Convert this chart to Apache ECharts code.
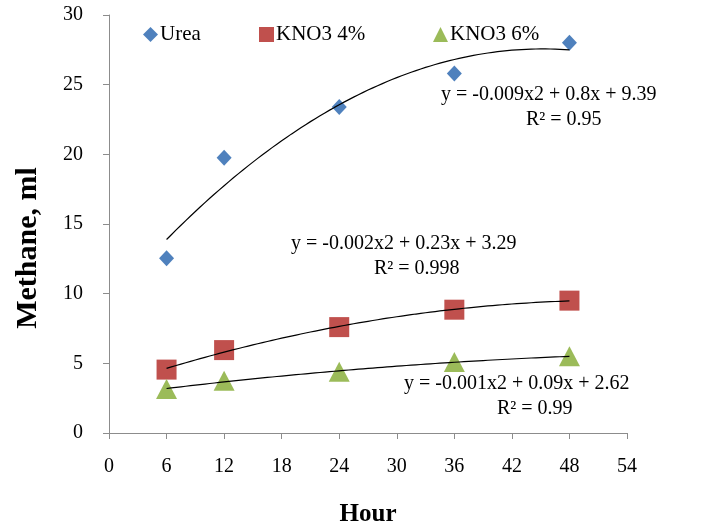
<!DOCTYPE html>
<html><head><meta charset="utf-8">
<script src="https://cdn.jsdelivr.net/npm/echarts@6/dist/echarts.min.js"></script>
<style>html,body{margin:0;padding:0;background:#fff}#c{width:715px;height:524px}</style>
</head><body><div id="c"></div>
<script>
var hours = [6, 12, 24, 36, 48];
var urea = [12.55, 19.75, 23.4, 25.8, 28.0];
var kno3_4 = [4.55, 5.95, 7.6, 8.85, 9.5];
var kno3_6 = [3.15, 3.75, 4.4, 5.1, 5.5];
var seriesNames = ['Urea', 'KNO3 4%', 'KNO3 6%'];
var equations = ['y = -0.009x2 + 0.8x + 9.39', 'y = -0.002x2 + 0.23x + 3.29', 'y = -0.001x2 + 0.09x + 2.62'];
var rsq = ['R\u00b2 = 0.95', 'R\u00b2 = 0.998', 'R\u00b2 = 0.99'];
var xTicks = [0, 6, 12, 18, 24, 30, 36, 42, 48, 54];
var yTicks = [0, 5, 10, 15, 20, 25, 30];

// least-squares quadratic trendline (as the spreadsheet did)
function quadFit(xs, ys) {
  var n = xs.length, S = [0,0,0,0,0], T = [0,0,0];
  for (var i = 0; i < n; i++) {
    var p = 1;
    for (var k = 0; k < 5; k++) { S[k] += p; p *= xs[i]; }
    p = 1;
    for (var k2 = 0; k2 < 3; k2++) { T[k2] += p * ys[i]; p *= xs[i]; }
  }
  var A = [[S[0],S[1],S[2],T[0]],[S[1],S[2],S[3],T[1]],[S[2],S[3],S[4],T[2]]];
  for (var c = 0; c < 3; c++) {
    for (var r = c + 1; r < 3; r++) {
      var f = A[r][c] / A[c][c];
      for (var j = c; j < 4; j++) A[r][j] -= f * A[c][j];
    }
  }
  var sol = [0,0,0];
  for (var r2 = 2; r2 >= 0; r2--) {
    var s = A[r2][3];
    for (var j2 = r2 + 1; j2 < 3; j2++) s -= A[r2][j2] * sol[j2];
    sol[r2] = s / A[r2][r2];
  }
  return sol;
}
function trend(ys) {
  var c = quadFit(hours, ys), pts = [];
  for (var x = hours[0]; x <= hours[hours.length - 1] + 1e-9; x += 0.5) {
    pts.push([x, c[0] + c[1] * x + c[2] * x * x]);
  }
  return pts;
}
function pairs(ys) { return hours.map(function (h, i) { return [h, ys[i]]; }); }

var font = '"Liberation Serif", "Times New Roman", serif';
var colors = ['#4F81BD', '#C0504D', '#9BBB59'];
var chart = echarts.init(document.getElementById('c'));
var trendStyle = { color: '#000', width: 1.2 };
function leg(name, icon, left) {
  return {
    data: [{ name: name, icon: icon }],
    top: 19, left: left, itemWidth: 15, itemHeight: 15, itemGap: 0,
    textStyle: { fontFamily: font, fontSize: 21, color: '#000', padding: [0, 0, 0, -3] }
  };
}
var eqFont = '20px ' + font;
chart.setOption({
  animation: false,
  textStyle: { fontFamily: font },
  grid: { left: 109, right: 88, top: 15, bottom: 91, containLabel: false, outerBoundsMode: 'none' },
  legend: [ leg(seriesNames[0], 'diamond', 138), leg(seriesNames[1], 'rect', 254), leg(seriesNames[2], 'triangle', 428) ],
  xAxis: {
    type: 'value', min: 0, max: 54, interval: 6,
    axisLine: { show: true, lineStyle: { color: '#8c8c8c' } },
    axisTick: { show: true, inside: false, length: 6, lineStyle: { color: '#8c8c8c' } },
    splitLine: { show: false },
    axisLabel: { fontFamily: font, fontSize: 20, color: '#000', margin: 24 },
    name: 'Hour', nameLocation: 'middle', nameGap: 69,
    nameTextStyle: { fontFamily: font, fontSize: 25, fontWeight: 'bold', color: '#000' }
  },
  yAxis: {
    type: 'value', min: 0, max: 30, interval: 5,
    axisLine: { show: true, lineStyle: { color: '#8c8c8c' } },
    axisTick: { show: true, inside: false, length: 6, lineStyle: { color: '#8c8c8c' } },
    splitLine: { show: false },
    axisLabel: { fontFamily: font, fontSize: 20, color: '#000', margin: 26 }
  },
  series: [
    { name: seriesNames[0] + ' trend', type: 'line', data: trend(urea), showSymbol: false, symbol: 'none', lineStyle: trendStyle, z: 3 },
    { name: seriesNames[1] + ' trend', type: 'line', data: trend(kno3_4), showSymbol: false, symbol: 'none', lineStyle: trendStyle, z: 3 },
    { name: seriesNames[2] + ' trend', type: 'line', data: trend(kno3_6), showSymbol: false, symbol: 'none', lineStyle: trendStyle, z: 3 },
    { name: seriesNames[0], type: 'scatter', data: pairs(urea), symbol: 'diamond', symbolSize: [15, 16], itemStyle: { color: colors[0], opacity: 1 }, z: 2 },
    { name: seriesNames[1], type: 'scatter', data: pairs(kno3_4), symbol: 'rect', symbolSize: 20, itemStyle: { color: colors[1], opacity: 1 }, z: 2 },
    { name: seriesNames[2], type: 'scatter', data: pairs(kno3_6), symbol: 'triangle', symbolSize: [21, 20], itemStyle: { color: colors[2], opacity: 1 }, z: 2 }
  ],
  graphic: [
    { type: 'text', x: 28, y: 248, rotation: Math.PI / 2, style: { text: 'Methane, ml', font: 'bold 30px ' + font, fill: '#000', align: 'center', verticalAlign: 'middle' } },
    { type: 'text', left: 441, top: 85, style: { text: equations[0], font: eqFont, fill: '#000' } },
    { type: 'text', left: 526, top: 110, style: { text: rsq[0], font: eqFont, fill: '#000' } },
    { type: 'text', left: 291, top: 234, style: { text: equations[1], font: eqFont, fill: '#000' } },
    { type: 'text', left: 374, top: 259, style: { text: rsq[1], font: eqFont, fill: '#000' } },
    { type: 'text', left: 404, top: 374, style: { text: equations[2], font: eqFont, fill: '#000' } },
    { type: 'text', left: 497, top: 399, style: { text: rsq[2], font: eqFont, fill: '#000' } }
  ]
});
</script></body></html>
